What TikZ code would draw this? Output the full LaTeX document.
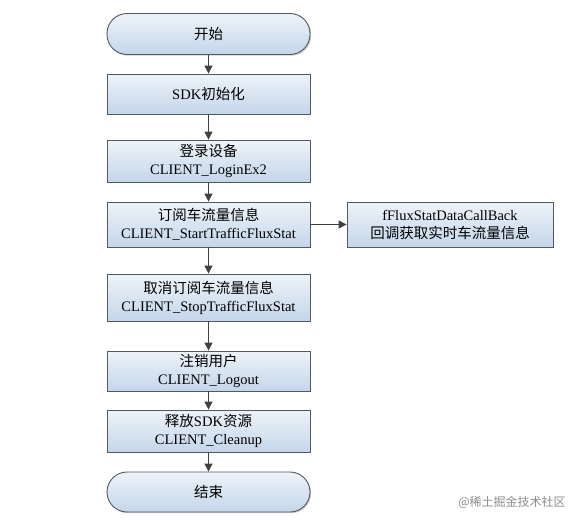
\documentclass[tikz,border=0pt]{standalone}
\usepackage{fontspec}
\setmainfont{Liberation Serif}
\newfontfamily\cjk{Noto Sans CJK SC}
\usetikzlibrary{arrows.meta,shadows}

\definecolor{boxline}{HTML}{505860}
\definecolor{boxtop}{HTML}{EEF3F9}
\definecolor{boxbot}{HTML}{C4D6EA}
\definecolor{flowline}{HTML}{404040}

\tikzset{
  procbox/.style={draw=boxline, line width=0.9pt, top color=boxtop, bottom color=boxbot,
    minimum width=203pt, align=center, inner sep=0pt,
    font=\fontsize{14.5}{18}\selectfont,
    drop shadow={shadow xshift=1.2pt, shadow yshift=-1.2pt, fill=black!40}},
  termbox/.style={procbox, rounded corners=20pt},
  flow/.style={draw=flowline, line width=1.1pt, -{Triangle[length=8pt,width=8pt]}}
}

\begin{document}
\begin{tikzpicture}[x=1pt, y=-1pt]
  \useasboundingbox (0,0) rectangle (581,522);
  % main column
  \node[termbox, minimum height=41pt] (start) at (208.5,34) {\cjk 开始};
  \node[procbox, minimum height=40pt] (init) at (208.5,94) {SDK{\cjk 初始化}};
  \node[procbox, minimum height=42pt] (login) at (208.5,161) {{\cjk 登录设备}\\CLIENT\_LoginEx2};
  \node[procbox, minimum height=45pt] (startflux) at (208.5,224.5) {{\cjk 订阅车流量信息}\\CLIENT\_StartTrafficFluxStat};
  \node[procbox, minimum height=47pt] (stopflux) at (208.5,297.5) {{\cjk 取消订阅车流量信息}\\CLIENT\_StopTrafficFluxStat};
  \node[procbox, minimum height=40pt] (logout) at (208.5,371) {{\cjk 注销用户}\\CLIENT\_Logout};
  \node[procbox, minimum height=42pt] (cleanup) at (208.5,431) {{\cjk 释放}SDK{\cjk 资源}\\CLIENT\_Cleanup};
  \node[termbox, minimum height=40pt] (stop) at (208.5,492) {\cjk 结束};
  % callback
  \node[procbox, minimum width=206pt, minimum height=45pt] (callback) at (450,224.5) {fFluxStatDataCallBack\\{\cjk 回调获取实时车流量信息}};
  % arrows
  \draw[flow] (start) -- (init);
  \draw[flow] (init) -- (login);
  \draw[flow] (login) -- (startflux);
  \draw[flow] (startflux) -- (stopflux);
  \draw[flow] (stopflux) -- (logout);
  \draw[flow] (logout) -- (cleanup);
  \draw[flow] (cleanup) -- (stop);
  \draw[flow] (startflux) -- (callback);
  % watermark
  \node[text=black!45, font=\cjk\fontsize{12}{14}\selectfont] (mark) at (512,502) {@稀土掘金技术社区};
\end{tikzpicture}
\end{document}
